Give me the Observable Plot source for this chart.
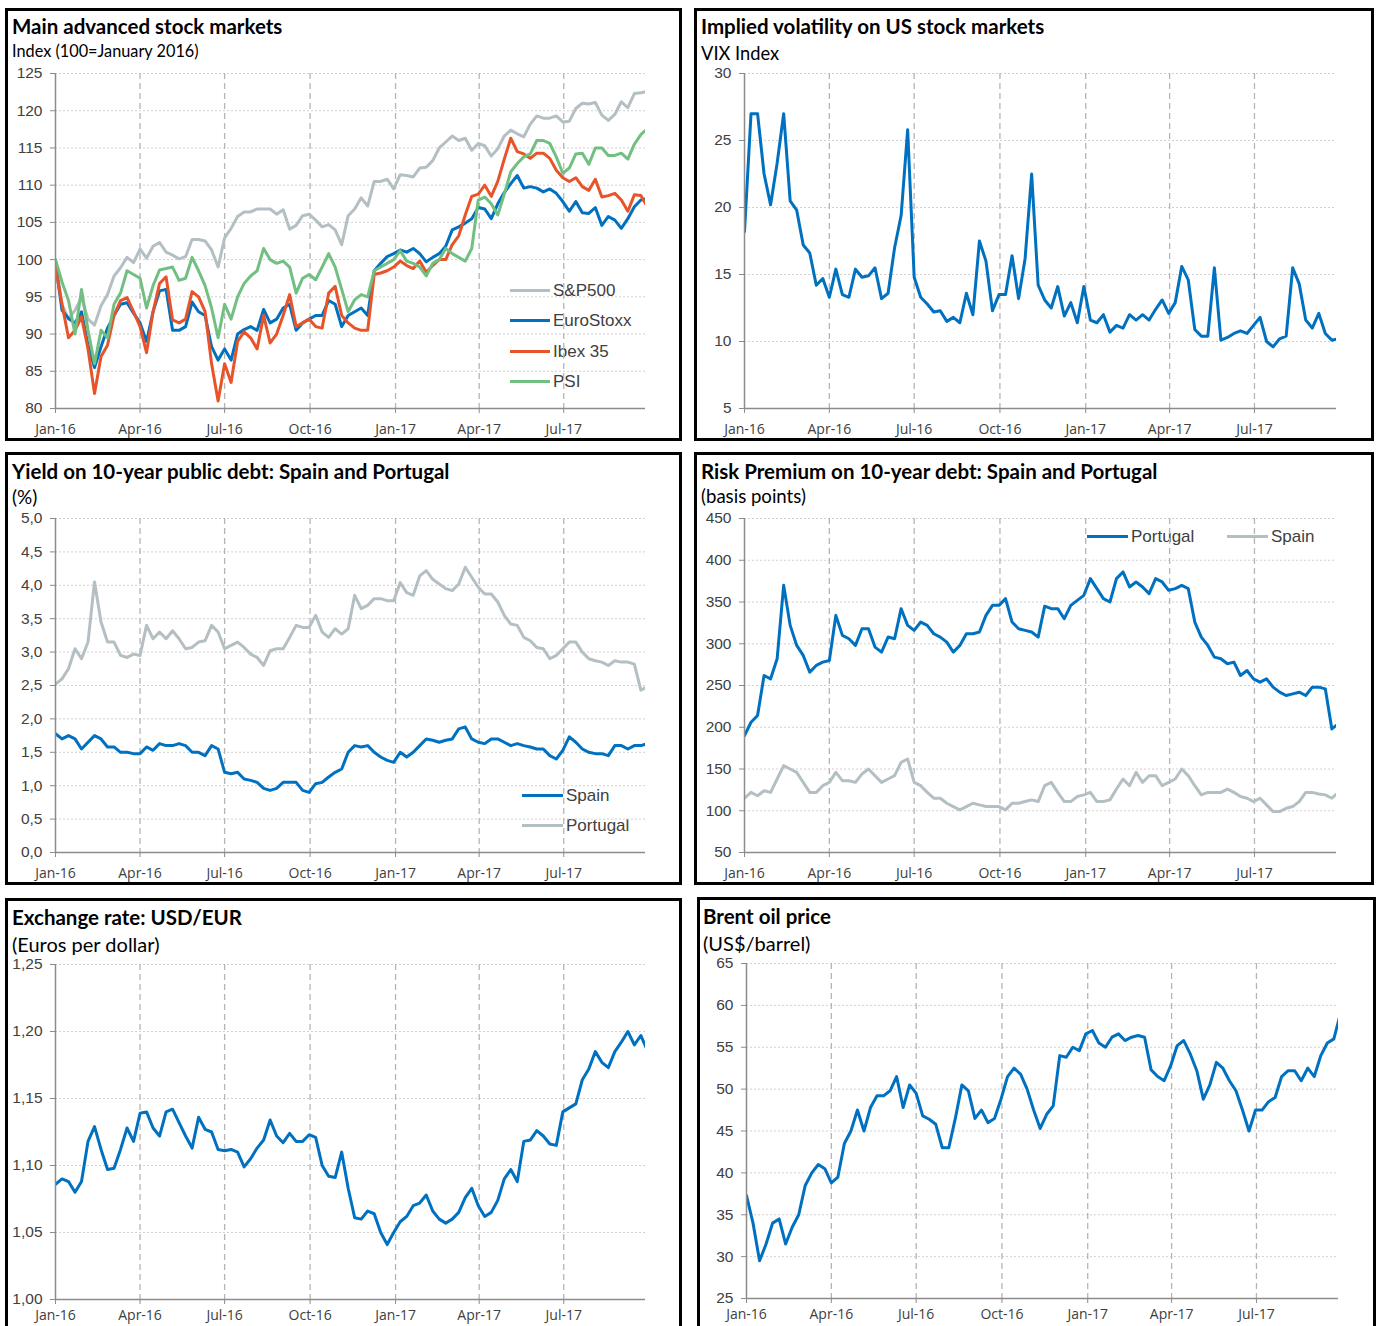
<!DOCTYPE html>
<html><head><meta charset="utf-8">
<script src="https://cdn.jsdelivr.net/npm/d3@7"></script>
<script src="https://cdn.jsdelivr.net/npm/@observablehq/plot@0.6"></script>
<style>
body{margin:0;background:#fff;}
#page{position:relative;width:1376px;height:1326px;overflow:hidden;background:#fff;}
.panel{position:absolute;border:3px solid #000;box-sizing:border-box;}
.title{position:absolute;font-family:Lato,"Open Sans",sans-serif;font-weight:700;font-size:20.5px;color:#000;white-space:nowrap;line-height:1;}
.sub{position:absolute;font-family:Lato,"Open Sans",sans-serif;font-size:17px;color:#000;white-space:nowrap;line-height:1;}
.sw{position:absolute;height:3px;}
.lt{position:absolute;font-family:"Liberation Sans",Arial,sans-serif;font-size:17px;color:#404040;line-height:1;white-space:nowrap;}
</style></head>
<body><div id="page"></div>
<script>
// ---------- data (weekly, Fridays from 1 Jan 2016) ----------
const weeks = d3.utcFriday.range(new Date("2016-01-01"), new Date("2017-09-30"));
const quarterTicks = ["2016-01-01","2016-04-01","2016-07-01","2016-10-01","2017-01-01","2017-04-01","2017-07-01"].map(d => new Date(d));
const xDomain = [new Date("2016-01-01"), new Date("2017-09-27")];

const sp500 = [100,94.0,92.0,93.2,94.9,92.0,91.2,93.8,95.3,97.8,
98.9,100.3,99.6,101.4,100.2,101.8,102.3,101.0,100.6,100.1,
100.4,102.7,102.7,102.5,101.3,99.0,102.9,104.2,105.8,106.4,
106.4,106.8,106.8,106.8,106.1,106.7,104.1,104.6,105.9,106.1,
105.3,104.4,104.7,104.0,102.0,105.9,106.8,108.3,107.2,110.5,
110.5,110.8,109.5,111.4,111.3,111.1,112.3,112.4,113.3,115.0,
115.8,116.6,116.0,116.3,114.7,115.6,115.3,113.9,114.9,116.6,
117.4,116.9,116.5,118.2,119.3,119.0,119.0,119.3,118.5,118.6,
120.3,121.0,120.9,121.1,119.4,118.7,119.5,121.2,120.4,122.3,
122.4,122.6];
const euroStoxx = [99.5,93.2,92.1,91.5,93.0,88.5,85.5,88.3,90.8,92.5,
94.0,94.2,92.8,91.5,89.0,93.0,95.8,96.0,90.5,90.5,
91.0,94.3,93.0,92.5,88.3,86.5,88.0,86.5,90.0,90.6,
91.0,90.5,93.3,91.5,92.0,93.5,94.0,90.5,91.5,92.0,
92.5,92.5,94.5,94.0,91.0,92.5,93.0,93.5,92.5,98.5,
99.5,100.4,100.8,101.3,101.0,101.5,100.8,99.7,100.3,100.8,
101.8,104.0,104.4,104.9,105.5,107.0,106.8,105.5,107.5,109.0,
110.2,111.3,109.6,109.8,109.6,109.1,109.5,108.9,107.8,106.5,
107.8,106.3,106.2,107.0,104.6,105.8,105.3,104.2,105.5,107.1,
108.0,108.2];
const ibex35 = [99.0,94.0,89.5,90.5,92.3,88.0,82.0,87.0,88.5,92.5,
94.5,94.9,93.0,91.0,87.5,93.0,96.8,97.7,91.9,91.5,
92.0,95.7,95.0,93.0,86.0,81.0,86.0,83.5,89.0,90.3,
89.5,88.0,92.5,88.8,90.0,92.5,95.3,91.0,91.5,92.0,
91.0,90.8,95.5,96.4,92.5,91.5,90.8,90.5,90.5,98.0,
98.2,98.5,99.0,99.8,99.2,98.8,99.8,98.3,99.2,100.0,
100.0,102.0,103.2,106.0,108.5,108.8,110.0,108.5,110.5,113.5,
116.3,114.5,114.2,113.6,114.3,114.3,113.6,112.0,111.0,110.5,
111.0,109.8,109.3,110.8,108.4,108.6,108.9,108.0,106.5,108.7,
108.6,107.1];
const psi = [100,97,94.5,90,96,90.5,86,90.5,89.5,94,
95.5,98.5,98,97.5,93.5,96.5,98.6,98.8,99,97.2,
97.5,100.3,98.5,96.5,93.5,89.5,94,92,95,96.8,
97.8,98.5,101.5,100,99.5,99.8,99,95.5,97.5,98,
97.3,99,100.8,99,96,93,94.6,95.3,95,98.5,
99,99.5,100,101.2,99.8,99.5,99,97.8,99.5,100,
101.5,100.8,100.3,99.8,101.5,108,108.4,107.5,106,108.8,
111.8,112.9,113.8,114.2,116,116,115.6,113.8,111.6,112.3,
114.2,114.3,112.8,115,115,114,114,114.3,113.5,115.5,
116.8,117.6];
const vix = [18.2,27.0,27.0,22.5,20.2,23.3,27.0,20.5,19.8,17.2,
16.6,14.2,14.7,13.3,15.4,13.5,13.3,15.4,14.8,14.9,
15.5,13.2,13.6,17.0,19.4,25.8,14.8,13.3,12.8,12.2,
12.3,11.5,11.8,11.4,13.6,12.0,17.5,16.0,12.3,13.5,
13.5,16.4,13.2,16.2,22.5,14.2,13.1,12.5,14.1,11.9,
12.9,11.4,14.1,11.6,11.4,12.0,10.7,11.2,11.0,12.0,
11.6,12.0,11.6,12.4,13.1,12.1,12.9,15.6,14.6,10.9,
10.4,10.4,15.5,10.1,10.3,10.6,10.8,10.6,11.2,11.8,
10.0,9.6,10.2,10.4,15.5,14.3,11.6,11.0,12.1,10.6,
10.1,10.2];
const yieldSpain = [1.78,1.70,1.75,1.70,1.55,1.65,1.75,1.70,1.58,1.58,
1.50,1.50,1.48,1.48,1.58,1.53,1.63,1.60,1.60,1.63,
1.60,1.50,1.50,1.45,1.60,1.55,1.20,1.18,1.20,1.10,
1.08,1.05,0.96,0.93,0.96,1.05,1.05,1.05,0.93,0.90,
1.03,1.05,1.13,1.20,1.25,1.50,1.60,1.58,1.60,1.50,
1.43,1.38,1.35,1.50,1.43,1.50,1.60,1.70,1.68,1.65,
1.68,1.70,1.85,1.88,1.70,1.65,1.63,1.70,1.70,1.65,
1.60,1.63,1.60,1.58,1.55,1.55,1.45,1.40,1.53,1.73,
1.65,1.55,1.50,1.48,1.48,1.45,1.60,1.60,1.55,1.60,
1.60,1.63];
const yieldPortugal = [2.52,2.60,2.75,3.05,2.90,3.15,4.05,3.45,3.15,3.15,
2.95,2.92,2.97,2.95,3.40,3.20,3.30,3.20,3.32,3.20,
3.05,3.07,3.15,3.17,3.40,3.30,3.05,3.10,3.15,3.07,
2.97,2.92,2.80,3.02,3.05,3.05,3.22,3.40,3.37,3.37,
3.55,3.30,3.22,3.35,3.27,3.35,3.85,3.65,3.70,3.80,
3.80,3.77,3.77,4.04,3.89,3.85,4.14,4.22,4.09,4.02,
3.95,3.92,4.02,4.27,4.12,3.97,3.87,3.87,3.75,3.55,
3.42,3.40,3.22,3.17,3.07,3.05,2.90,2.95,3.05,3.15,
3.15,3.00,2.90,2.87,2.85,2.80,2.87,2.85,2.85,2.82,
2.43,2.48];
const premiumPortugal = [190,206,214,262,258,282,370,322,298,286,
266,274,278,280,334,310,306,298,318,318,
296,290,308,306,342,322,316,326,322,312,
308,302,290,298,312,312,314,334,346,346,
354,326,318,316,314,308,345,342,342,330,
346,352,358,378,366,354,350,378,386,368,
374,368,360,378,374,364,366,370,366,326,
308,298,284,282,276,278,262,268,258,254,
258,248,242,238,240,242,238,248,248,246,
198,204];
const premiumSpain = [115,122,118,124,122,138,154,150,146,134,
122,122,130,134,146,136,136,134,144,150,
142,134,138,142,158,162,134,130,122,115,
115,109,105,101,105,109,107,105,105,105,
101,109,109,111,113,111,130,134,122,111,
111,117,119,122,111,111,113,126,138,130,
146,134,142,142,130,134,138,150,142,130,
119,122,122,122,126,122,117,115,111,115,
107,99,99,103,105,111,122,122,120,119,
115,122];
const usdEur = [1.086,1.090,1.088,1.080,1.088,1.118,1.129,1.112,1.097,1.098,
1.112,1.128,1.118,1.139,1.140,1.128,1.122,1.140,1.142,1.132,
1.122,1.113,1.136,1.127,1.125,1.112,1.111,1.112,1.110,1.099,
1.105,1.113,1.119,1.134,1.122,1.117,1.124,1.118,1.118,1.123,
1.121,1.100,1.092,1.091,1.110,1.083,1.061,1.060,1.066,1.064,
1.050,1.041,1.050,1.058,1.062,1.070,1.072,1.078,1.066,1.060,
1.057,1.060,1.065,1.076,1.083,1.070,1.062,1.065,1.074,1.090,
1.097,1.088,1.118,1.119,1.126,1.122,1.116,1.115,1.140,1.143,
1.146,1.164,1.172,1.185,1.177,1.173,1.185,1.192,1.200,1.190,
1.197,1.186];
const brent = [37.3,34.0,29.5,31.5,34.0,34.5,31.5,33.5,35.0,38.5,
40.0,41.0,40.5,38.8,39.5,43.5,45.0,47.5,45.0,47.8,
49.2,49.2,49.8,51.5,47.8,50.5,49.5,46.8,46.4,45.8,
43.0,43.0,46.5,50.5,49.8,46.5,47.5,46.0,46.5,48.8,
51.5,52.5,51.8,50.0,47.5,45.3,47.0,48.0,54.0,53.8,
55.0,54.6,56.6,57.0,55.5,55.0,56.2,56.6,55.8,56.2,
56.4,56.2,52.3,51.5,51.0,52.8,55.2,55.8,54.2,52.2,
48.8,50.5,53.2,52.5,51.0,49.8,47.5,45.0,47.5,47.5,
48.5,49.0,51.5,52.2,52.2,51.0,52.5,51.5,54.0,55.5,
56.0,59.0];

const ticksStocks = [80,85,90,95,100,105,110,115,120,125];
const ticksVix = [5,10,15,20,25,30];
const ticksYield = [0,0.5,1,1.5,2,2.5,3,3.5,4,4.5,5];
const ticksPremium = [50,100,150,200,250,300,350,400,450];
const ticksFx = [1.00,1.05,1.10,1.15,1.20,1.25];
const ticksBrent = [25,30,35,40,45,50,55,60,65];

const BLUE = "#0070C0", GRAY = "#B4BFC4", ORANGE = "#E8542A", GREEN = "#72BF82";

// ---------- layout ----------
const page = document.getElementById("page");
function el(cls, style, text) {
  const d = document.createElement("div");
  d.className = cls;
  Object.assign(d.style, style);
  if (text != null) d.textContent = text;
  page.appendChild(d);
  return d;
}
function box(l, t, r, b) { el("panel", {left: l+"px", top: t+"px", width: (r-l)+"px", height: (b-t)+"px"}); }

box(5, 8, 682, 441);
box(694, 8, 1374, 441);
box(5, 452, 682, 885);
box(694, 452, 1374, 885);
box(5, 898, 682, 1345);
box(697, 897, 1376, 1345);

el("title", {left: "12px", top: "16px"}, "Main advanced stock markets");
el("sub", {left: "12px", top: "43px", fontSize: "16.3px"}, "Index (100=January 2016)");
el("title", {left: "701px", top: "16px"}, "Implied volatility on US stock markets");
el("sub", {left: "701px", top: "44px", fontSize: "18.3px"}, "VIX Index");
el("title", {left: "12px", top: "461px"}, "Yield on 10-year public debt: Spain and Portugal");
el("sub", {left: "12px", top: "487px", fontSize: "19px"}, "(%)");
el("title", {left: "701px", top: "461px"}, "Risk Premium on 10-year debt: Spain and Portugal");
el("sub", {left: "701px", top: "487px", fontSize: "18.6px"}, "(basis points)");
el("title", {left: "12px", top: "907px"}, "Exchange rate: USD/EUR");
el("sub", {left: "12px", top: "934px", fontSize: "20px"}, "(Euros per dollar)");
el("title", {left: "703px", top: "906px"}, "Brent oil price");
el("sub", {left: "703px", top: "933px", fontSize: "20px"}, "(US$/barrel)");

function legendItem(x0, x1, y, color, label) {
  el("sw", {left: x0+"px", top: (y-1.5)+"px", width: (x1-x0)+"px", background: color});
  el("lt", {left: (x1+3)+"px", top: (y-8)+"px"}, label);
}
legendItem(510, 550, 290, GRAY, "S&P500");
legendItem(510, 550, 320, BLUE, "EuroStoxx");
legendItem(510, 550, 351, ORANGE, "Ibex 35");
legendItem(510, 550, 381, GREEN, "PSI");
legendItem(522, 563, 795, BLUE, "Spain");
legendItem(522, 563, 825, GRAY, "Portugal");
legendItem(1087, 1128, 536, BLUE, "Portugal");
legendItem(1227, 1268, 536, GRAY, "Spain");

const comma = n => d => d.toFixed(n).replace(".", ",");

function chart(cfg) {
  const {left, top, width, height, px0, px1, py0, py1, yDomain, yTicks, yFormat, series, xPad = 11} = cfg;
  const p = Plot.plot({
    width, height,
    marginLeft: px0 - left, marginRight: left + width - px1,
    marginTop: py0 - top, marginBottom: top + height - py1,
    style: {overflow: "visible", background: "transparent", color: "#404040"},
    x: {type: "utc", domain: xDomain},
    y: {domain: yDomain},
    marks: [
      Plot.ruleY(yTicks.slice(1), {stroke: "#d0d0d0", strokeDasharray: "2,2"}),
      Plot.ruleX(quarterTicks.slice(1), {stroke: "#b5b5b5", strokeDasharray: "6,4", strokeWidth: 1.3}),
      ...series.map(s => Plot.line(weeks, {x: d => d, y: (d, i) => s.values[i], stroke: s.color, strokeWidth: 3, clip: true})),
      Plot.ruleX([xDomain[0]], {stroke: "#8c8c8c", strokeWidth: 1.5}),
      Plot.ruleY([yDomain[0]], {stroke: "#8c8c8c", strokeWidth: 1.5}),
      Plot.axisY({ticks: yTicks, tickFormat: yFormat, tickSize: 5, tickPadding: 8, fontSize: 15.5, fontFamily: "Liberation Sans", stroke: "#8c8c8c", fill: "#404040", label: null}),
      Plot.axisX({ticks: quarterTicks, tickFormat: d3.utcFormat("%b-%y"), tickSize: 5, tickPadding: xPad, fontSize: 14, fontFamily: "Open Sans", stroke: "#8c8c8c", fill: "#404040", label: null})
    ]
  });
  p.style.position = "absolute";
  p.style.left = left + "px";
  p.style.top = top + "px";
  page.appendChild(p);
}

chart({left: 8, top: 62, width: 670, height: 376, px0: 55, px1: 645, py0: 73, py1: 408,
  yDomain: [80, 125], yTicks: ticksStocks, yFormat: d => String(d),
  series: [{values: sp500, color: GRAY}, {values: euroStoxx, color: BLUE}, {values: ibex35, color: ORANGE}, {values: psi, color: GREEN}]});
chart({left: 697, top: 62, width: 674, height: 376, px0: 744, px1: 1336, py0: 73, py1: 408,
  yDomain: [5, 30], yTicks: ticksVix, yFormat: d => String(d),
  series: [{values: vix, color: BLUE}]});
chart({left: 8, top: 506, width: 670, height: 376, px0: 55, px1: 645, py0: 518, py1: 852,
  yDomain: [0, 5], yTicks: ticksYield, yFormat: comma(1),
  series: [{values: yieldPortugal, color: GRAY}, {values: yieldSpain, color: BLUE}]});
chart({left: 697, top: 506, width: 674, height: 376, px0: 744, px1: 1336, py0: 518, py1: 852,
  yDomain: [50, 450], yTicks: ticksPremium, yFormat: d => String(d),
  series: [{values: premiumSpain, color: GRAY}, {values: premiumPortugal, color: BLUE}]});
chart({left: 8, top: 952, width: 670, height: 372, px0: 55, px1: 645, py0: 964, py1: 1299, xPad: 6,
  yDomain: [1, 1.25], yTicks: ticksFx, yFormat: comma(2),
  series: [{values: usdEur, color: BLUE}]});
chart({left: 700, top: 952, width: 672, height: 372, px0: 746, px1: 1338, py0: 963, py1: 1298, xPad: 6,
  yDomain: [25, 65], yTicks: ticksBrent, yFormat: d => String(d),
  series: [{values: brent, color: BLUE}]});
</script>
</body></html>
